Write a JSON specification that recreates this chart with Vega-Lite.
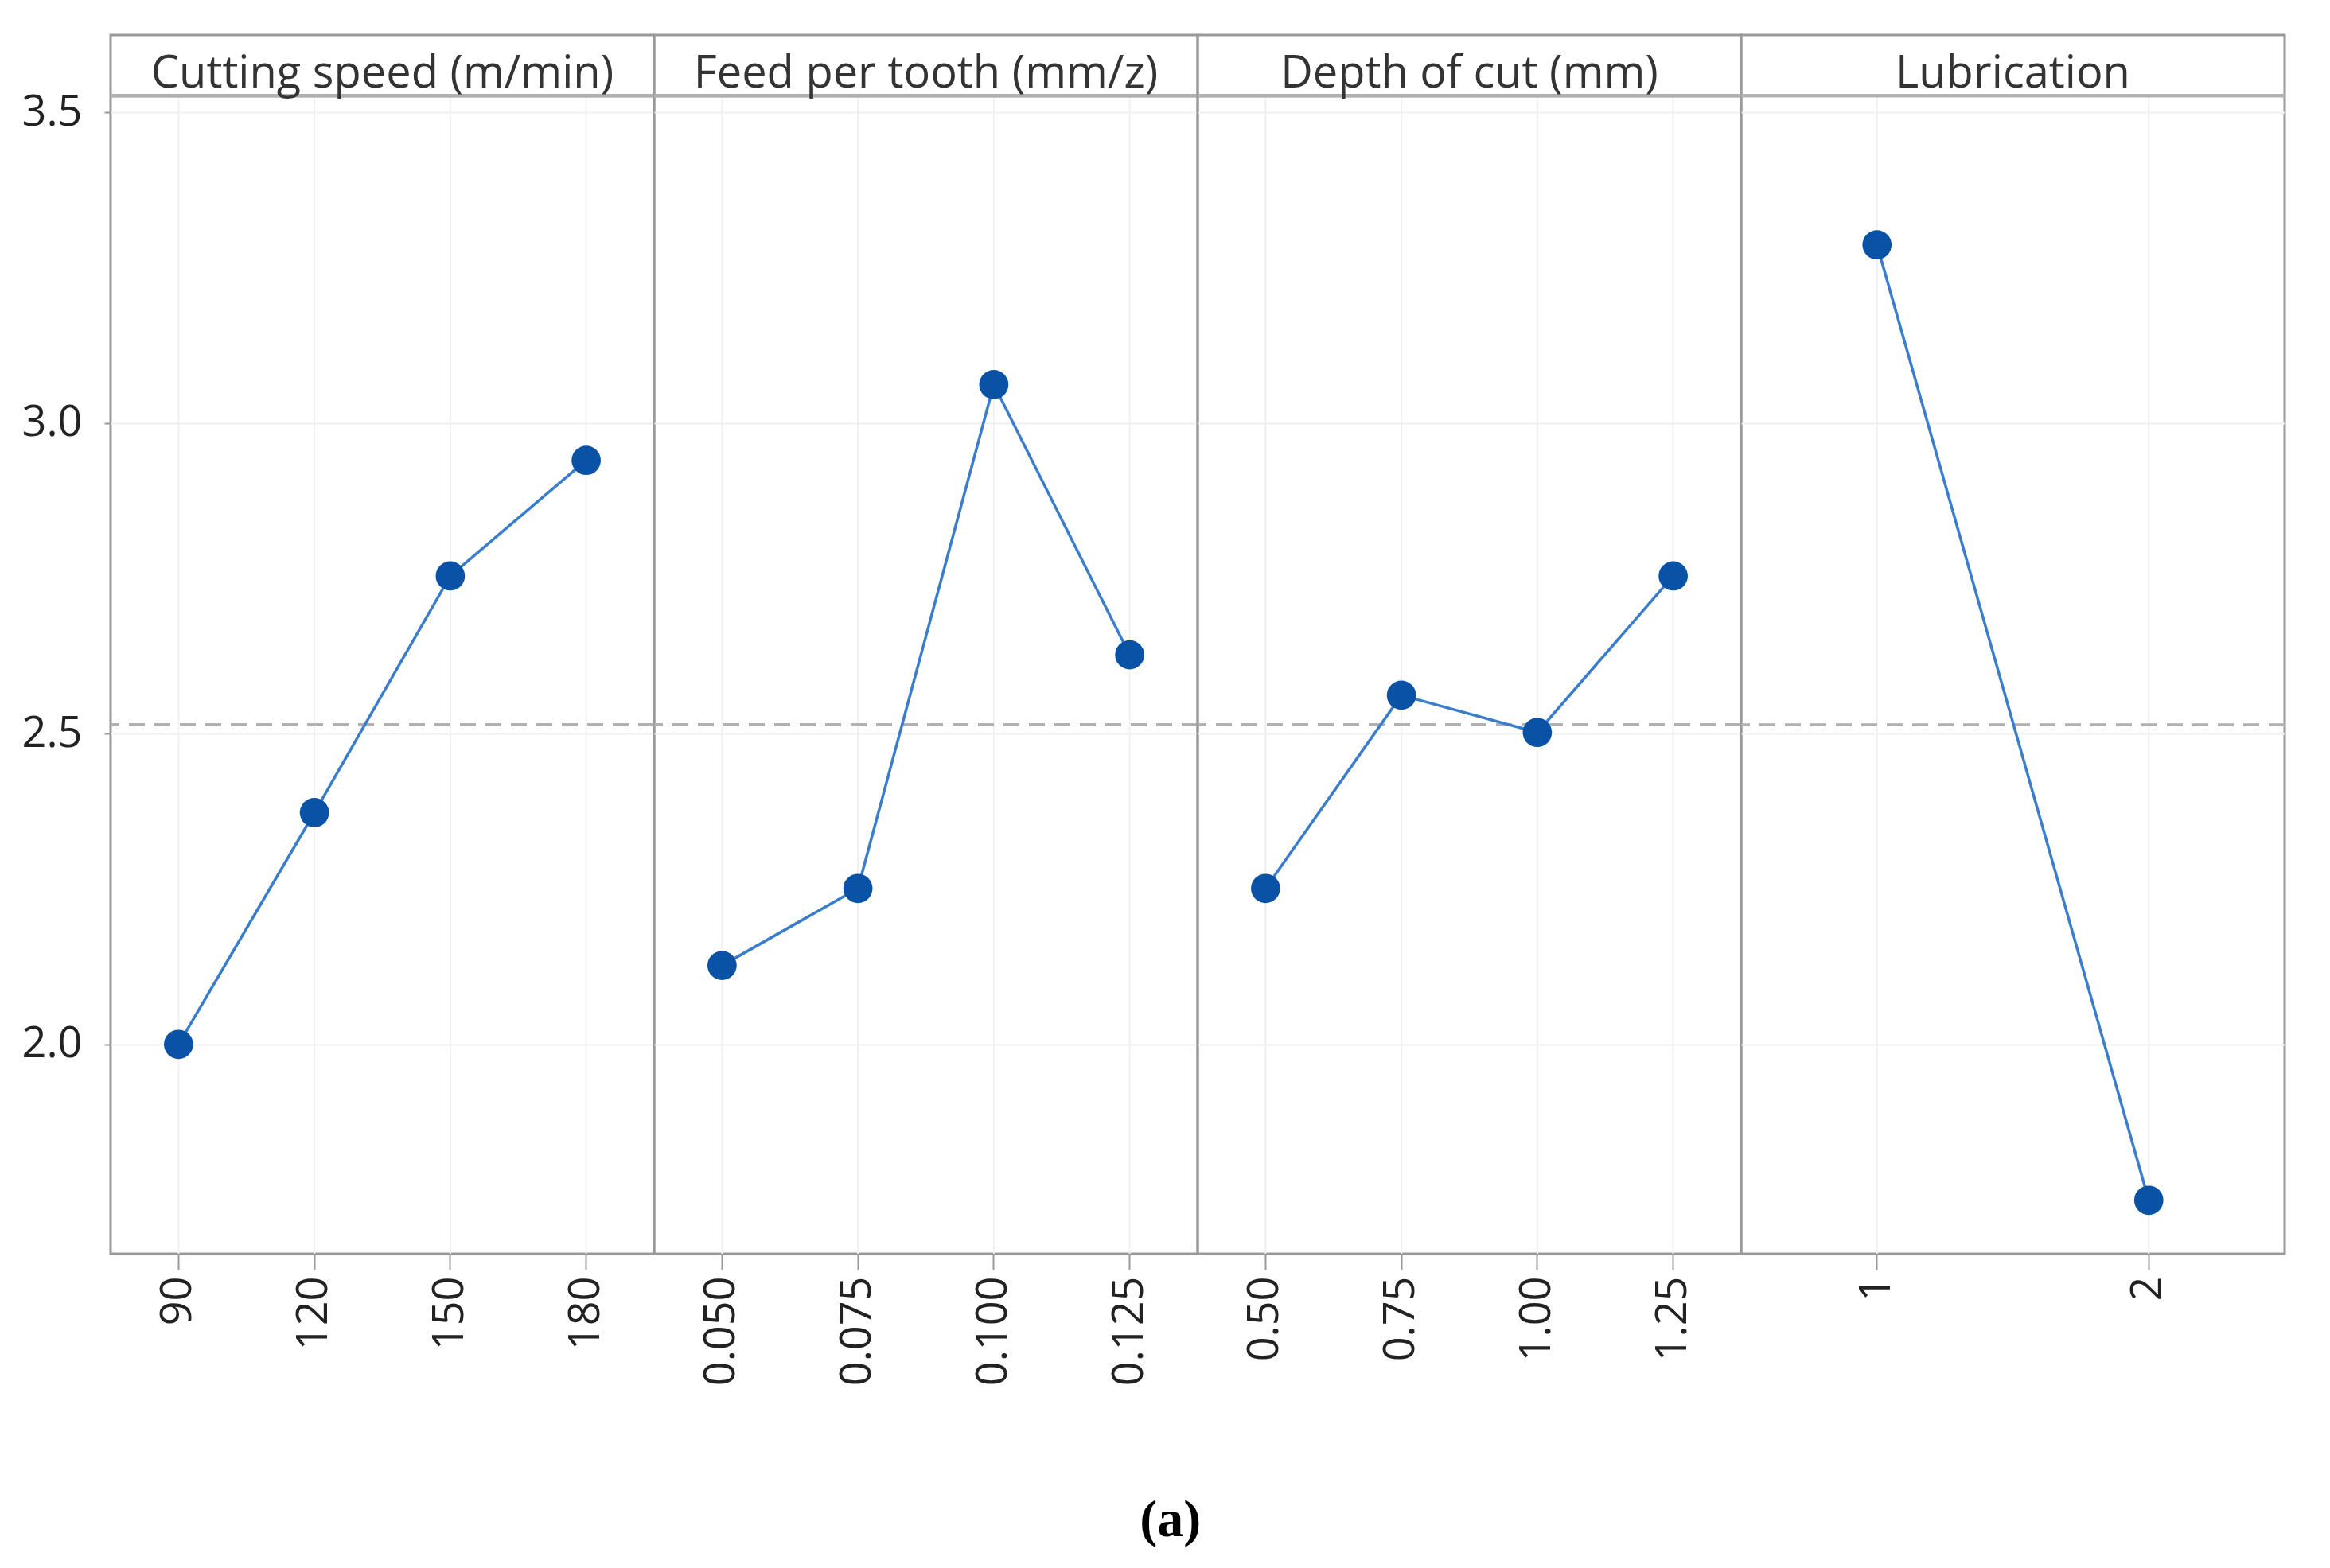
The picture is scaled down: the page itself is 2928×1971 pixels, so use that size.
{
  "$schema": "https://vega.github.io/schema/vega-lite/v6.json",
  "background": "white",
  "padding": {"left": 27, "top": 42, "right": 50, "bottom": 5},
  "bounds": "flush",
  "title": {"text": "(a)", "orient": "bottom", "anchor": "middle", "font": "Liberation Serif", "fontSize": 66, "fontWeight": "bold", "color": "#000000", "offset": 136, "dx": 20},
  "data": {"values": [
    {"factor": "Cutting speed (m/min)", "level": "90", "idx": 1, "mean": 2.000},
    {"factor": "Cutting speed (m/min)", "level": "120", "idx": 2, "mean": 2.373},
    {"factor": "Cutting speed (m/min)", "level": "150", "idx": 3, "mean": 2.754},
    {"factor": "Cutting speed (m/min)", "level": "180", "idx": 4, "mean": 2.940},
    {"factor": "Feed per tooth (mm/z)", "level": "0.050", "idx": 1, "mean": 2.127},
    {"factor": "Feed per tooth (mm/z)", "level": "0.075", "idx": 2, "mean": 2.251},
    {"factor": "Feed per tooth (mm/z)", "level": "0.100", "idx": 3, "mean": 3.062},
    {"factor": "Feed per tooth (mm/z)", "level": "0.125", "idx": 4, "mean": 2.627},
    {"factor": "Depth of cut (mm)", "level": "0.50", "idx": 1, "mean": 2.251},
    {"factor": "Depth of cut (mm)", "level": "0.75", "idx": 2, "mean": 2.562},
    {"factor": "Depth of cut (mm)", "level": "1.00", "idx": 3, "mean": 2.502},
    {"factor": "Depth of cut (mm)", "level": "1.25", "idx": 4, "mean": 2.754},
    {"factor": "Lubrication", "level": "1", "idx": 1, "mean": 3.287},
    {"factor": "Lubrication", "level": "2", "idx": 2, "mean": 1.749}
  ]},
  "facet": {
    "column": {
      "field": "factor", "type": "nominal",
      "sort": ["Cutting speed (m/min)", "Feed per tooth (mm/z)", "Depth of cut (mm)", "Lubrication"],
      "header": {"title": null, "labels": false}
    }
  },
  "spacing": 0,
  "spec": {
    "width": 683,
    "height": 1532,
    "layer": [
      {
        "mark": {"type": "rule", "color": "#f0f0f0", "strokeWidth": 2},
        "encoding": {
          "x": {"field": "level", "type": "ordinal", "sort": {"field": "idx", "op": "min"},
                "axis": {"title": null, "labelAngle": -90, "labelFont": "Open Sans", "labelFontSize": 54, "labelColor": "#222222", "labelPadding": 8, "tickSize": 20, "tickColor": "#999999", "tickWidth": 2, "domain": false, "grid": false}},
          "y": {"datum": 1.663, "type": "quantitative",
                "scale": {"domain": [1.663, 3.6246], "nice": false, "zero": false},
                "axis": {"title": null, "values": [2, 2.5, 3, 3.5], "format": ".1f", "labelFont": "Open Sans", "labelFontSize": 54, "labelColor": "#222222", "labelPadding": 28, "tickSize": 8, "tickColor": "#999999", "tickWidth": 2, "domain": false, "grid": true, "gridColor": "#f0f0f0", "gridWidth": 2}},
          "y2": {"datum": 3.527}
        }
      },
      {
        "mark": {"type": "rule", "color": "#b0b0b0", "strokeWidth": 4},
        "encoding": {"y": {"datum": 3.527, "type": "quantitative"}}
      },
      {
        "transform": [{"filter": "datum.idx == 1"}],
        "mark": {"type": "text", "font": "Open Sans", "fontSize": 56, "color": "#333333", "baseline": "middle", "align": "center"},
        "encoding": {
          "y": {"datum": 3.562, "type": "quantitative"},
          "text": {"field": "factor", "type": "nominal"}
        }
      },
      {
        "mark": {"type": "rule", "color": "#b0b0b0", "strokeWidth": 3.5, "strokeDash": [20, 12]},
        "encoding": {"y": {"datum": 2.514, "type": "quantitative"}}
      },
      {
        "mark": {"type": "line", "color": "#3a7dcc", "strokeWidth": 3.5},
        "encoding": {
          "x": {"field": "level", "type": "ordinal", "sort": {"field": "idx", "op": "min"}},
          "y": {"field": "mean", "type": "quantitative"},
          "order": {"field": "idx", "type": "quantitative"}
        }
      },
      {
        "mark": {"type": "point", "filled": true, "shape": "circle", "color": "#0a52a6", "size": 1350, "opacity": 1},
        "encoding": {
          "x": {"field": "level", "type": "ordinal", "sort": {"field": "idx", "op": "min"}},
          "y": {"field": "mean", "type": "quantitative"}
        }
      }
    ]
  },
  "resolve": {"scale": {"x": "independent"}},
  "config": {
    "view": {"stroke": "#999999", "strokeWidth": 3},
    "font": "Open Sans"
  }
}
